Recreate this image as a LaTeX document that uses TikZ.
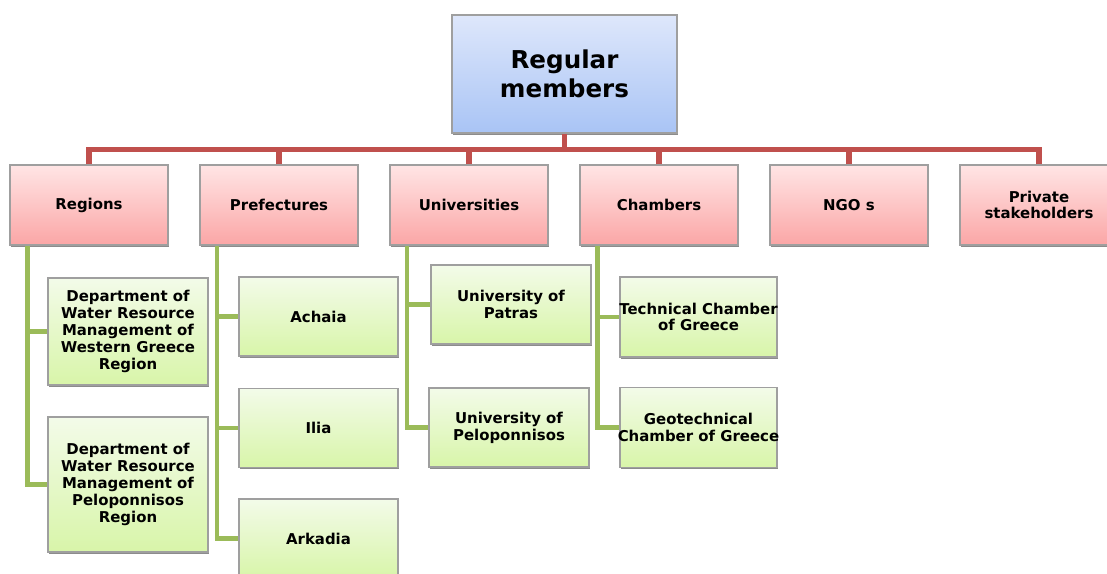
\documentclass[tikz,border=0pt]{standalone}
\usepackage{fontspec}
\setmainfont{DejaVu Sans}
\usepackage{tikz}
\usetikzlibrary{positioning, shadows}
\definecolor{barred}{HTML}{C0504D}
\definecolor{bargreen}{HTML}{9BBB59}
\definecolor{headtop}{HTML}{DEE7FB}
\definecolor{headbot}{HTML}{A9C4F5}
\definecolor{pinktop}{HTML}{FFE5E5}
\definecolor{pinkbot}{HTML}{FBA6A6}
\definecolor{greentop}{HTML}{F3FBE9}
\definecolor{greenbot}{HTML}{D8F5A9}
\newcommand{\wideline}[1]{\makebox[2.9cm][c]{#1}}
\tikzset{
  box/.style={draw=gray!75, line width=0.6pt, align=center, inner sep=0pt,
    font=\fontsize{8.5}{9.6}\selectfont\bfseries,
    drop shadow={shadow xshift=0.4pt, shadow yshift=-0.9pt, fill=gray!90, opacity=1}},
  headbox/.style={box, top color=headtop, bottom color=headbot,
    minimum width=4.5cm, minimum height=2.36cm, font=\fontsize{14}{16.4}\selectfont\bfseries},
  groupbox/.style={box, top color=pinktop, bottom color=pinkbot,
    minimum width=3.16cm, minimum height=1.6cm},
  memberbox/.style={box, top color=greentop, bottom color=greenbot,
    minimum width=3.18cm, minimum height=1.58cm},
  redline/.style={barred, line width=3pt},
  greenline/.style={bargreen, line width=2.8pt}
}
\begin{document}
\begin{tikzpicture}[x=0.02cm, y=-0.02cm]
        \clip (0,0) rectangle (1107,574);
        \node[headbox] (top) at (564.5,74) {Regular\\members};

        \node[groupbox] (reg) at (89,205) {Regions};
        \node[groupbox] (pref) at (279,205) {Prefectures};
        \node[groupbox] (univ) at (469,205) {Universities};
        \node[groupbox] (cham) at (659,205) {Chambers};
        \node[groupbox] (ngo) at (849,205) {NGO s};
        \node[groupbox] (priv) at (1039,205) {Private\\stakeholders};

        \node[memberbox, minimum width=3.2cm, minimum height=2.14cm] (reg1) at (128,331.5) {Department of\\Water Resource\\Management of\\Western Greece\\Region};
        \node[memberbox, minimum width=3.2cm, minimum height=2.7cm] (reg2) at (128,484.5) {Department of\\Water Resource\\Management of\\Peloponnisos\\Region};

        \node[memberbox] (ach) at (318.5,316.5) {Achaia};
        \node[memberbox] (ili) at (318.5,428) {Ilia};
        \node[memberbox] (ark) at (318.5,538.5) {Arkadia};

        \node[memberbox, minimum width=3.2cm] (pat) at (511,304.5) {University of\\Patras};
        \node[memberbox, minimum width=3.2cm] (pel) at (509,427.5) {University of\\Peloponnisos};

        \node[memberbox, minimum width=3.14cm, minimum height=1.6cm] (tech) at (698.5,317) {\wideline{Technical Chamber}\\of Greece};
        \node[memberbox, minimum width=3.14cm, minimum height=1.6cm] (geo) at (698.5,427.5) {Geotechnical\\\wideline{Chamber of Greece}};

        % red tree
        \foreach \g in {reg,pref,univ,cham,ngo,priv}
          \draw[redline] (\g.north) -- ++(0,-15) -| (top.south);

        % green branches
        \draw[greenline] ([xshift=0.36cm]reg.south west) |- (reg1.west);
        \draw[greenline] ([xshift=0.36cm]reg.south west) |- (reg2.west);
        \draw[greenline] ([xshift=0.35cm]pref.south west) |- (ach.west);
        \draw[greenline] ([xshift=0.35cm]pref.south west) |- (ili.west);
        \draw[greenline] ([xshift=0.35cm]pref.south west) |- (ark.west);
        \draw[greenline] ([xshift=0.35cm]univ.south west) |- (pat.west);
        \draw[greenline] ([xshift=0.35cm]univ.south west) |- (pel.west);
        \draw[greenline] ([xshift=0.36cm]cham.south west) |- (tech.west);
        \draw[greenline] ([xshift=0.36cm]cham.south west) |- (geo.west);
\end{tikzpicture}
\end{document}
